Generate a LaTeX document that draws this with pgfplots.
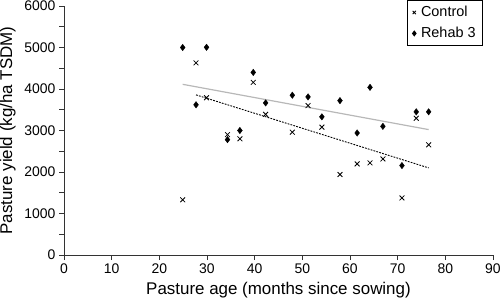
\documentclass[border=0pt]{standalone}
\usepackage{fontspec}
\setmainfont{Liberation Sans}
\usepackage{pgfplots}
\pgfplotsset{compat=1.18}
\begin{document}
\begin{tikzpicture}
\begin{axis}[
  name=ax,
  scale only axis, width=429bp, height=249bp,
  xmin=0, xmax=90, ymin=0, ymax=6000,
  axis lines=left,
  axis line style={-, line width=1bp, black!80},
  xtick={0,10,...,90}, ytick={0,1000,...,6000},
  minor ytick={500,1500,...,5500},
  tick align=outside, major tick length=5bp, minor tick length=5bp,
  tick style={black!80, line width=0.8bp},
  scaled y ticks=false,
  /pgf/number format/1000 sep={},
  /pgf/number format/assume math mode=true,
  ticklabel style={font=\fontsize{14}{16}\selectfont},
  label style={font=\fontsize{17}{19}\selectfont},
  xlabel={Pasture age (months since sowing)},
  xlabel style={yshift=-2bp},
  ylabel={Pasture yield (kg/ha TSDM)},
  ylabel style={yshift=2bp},
  legend style={at={(0.977,1.024)}, anchor=north east,
    font=\fontsize{14.5}{17}\selectfont, draw=black, line width=1bp,
    inner xsep=5bp, inner ysep=4bp, row sep=5bp, column sep=3bp},
  legend image code/.code={\draw[mark size=2.3bp, #1] plot coordinates {(0bp,0bp)};},
  legend cell align=left,
  clip=false
]
\addplot[only marks, mark=x, mark size=3.4bp, mark options={line width=0.8bp}] coordinates {
(24.9,1330) (27.7,4630) (29.9,3790) (34.3,2900) (36.9,2800) (39.7,4160)
(42.3,3390) (47.9,2960) (51.2,3600) (54.1,3080) (57.9,1940) (61.5,2195)
(64.2,2220) (66.9,2315) (70.9,1376) (73.9,3295) (76.5,2655)
};
\addlegendentry{Control}
\addplot[only marks, mark=diamond*, mark size=3.2bp] coordinates {
(24.9,5000) (27.7,3620) (29.9,5005) (34.3,2780) (36.9,3000) (39.7,4400)
(42.3,3665) (47.9,3850) (51.2,3810) (54.1,3330) (57.9,3720) (61.5,2940)
(64.2,4040) (66.9,3100) (70.9,2155) (73.9,3450) (76.5,3450)
};
\addlegendentry{Rehab 3}
\addplot[black!28, line width=1.2bp, forget plot] coordinates {(24.9,4113) (76.5,3022)};
\addplot[black, line width=0.9bp, dash pattern=on 1.8bp off 1.2bp, forget plot] coordinates {(27.7,3858) (76.5,2099)};
\end{axis}
\pgfresetboundingbox
\path[use as bounding box] ([shift={(-64bp,-47bp)}]ax.south west) rectangle ([shift={(7bp,6bp)}]ax.north east);
\end{tikzpicture}
\end{document}
